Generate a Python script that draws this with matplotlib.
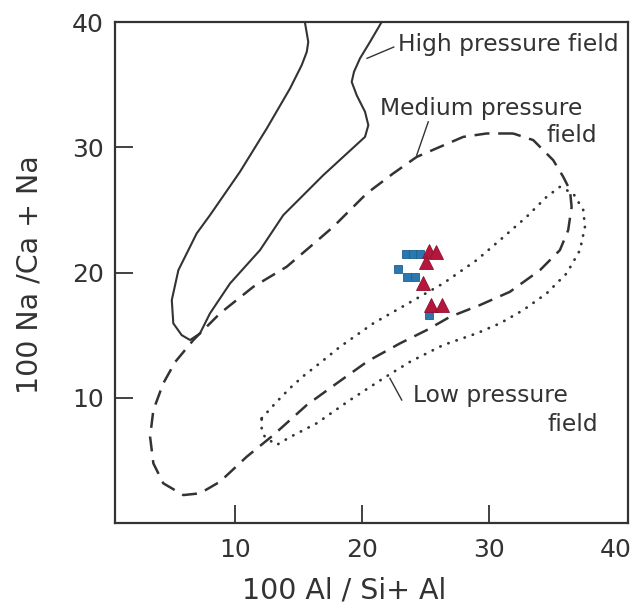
import matplotlib
matplotlib.use('Agg')
import matplotlib.pyplot as plt

# field boundaries (x = 100 Al/(Si+Al), y = 100 Na/(Ca+Na))
high_x = [15.50, 15.77, 15.65, 15.25, 14.33, 12.50, 10.39, 8.03, 6.98, 5.54, 5.02,
          5.14, 5.80, 6.46, 7.24, 8.03, 9.61, 11.97, 13.80, 16.95, 20.24, 20.50,
          20.24, 19.58, 19.19, 19.37, 19.84, 20.63, 21.55]
high_y = [40.00, 38.41, 37.61, 36.55, 34.69, 31.50, 28.04, 24.58, 23.12, 20.19, 17.80,
          15.94, 15.00, 14.61, 15.14, 16.74, 19.13, 21.79, 24.58, 27.77, 30.83, 31.76,
          32.83, 34.16, 35.22, 36.02, 37.09, 38.41, 40.00]

medium_x = [31.91, 29.82, 27.98, 26.14, 24.31, 22.46, 20.37, 17.74, 15.91, 14.07,
            11.44, 8.82, 6.72, 5.28, 4.35, 3.57, 3.31, 3.57, 4.35, 5.93, 7.24, 8.82,
            10.92, 13.02, 15.65, 18.01, 20.47, 22.99, 25.09, 26.93, 29.29, 31.65,
            34.02, 35.59, 36.24, 36.51, 36.38, 35.85, 35.06, 33.49, 31.91]
medium_y = [31.10, 31.10, 30.83, 30.03, 29.23, 27.91, 26.31, 23.65, 22.05, 20.46,
            18.86, 16.74, 14.61, 12.85, 11.15, 9.02, 6.89, 4.76, 3.17, 2.23, 2.37, 3.30,
            5.29, 7.02, 9.42, 11.15, 12.93, 14.34, 15.40, 16.46, 17.40, 18.46,
            20.19, 21.79, 23.38, 25.24, 26.58, 27.64, 28.97, 30.57, 31.10]

low_x = [12.10, 13.28, 14.33, 15.38, 16.69, 18.27, 20.89, 22.99, 26.40, 29.03,
         30.87, 32.97, 34.54, 35.59, 36.64, 37.43, 37.56, 37.17, 36.12, 34.54,
         32.70, 30.87, 29.03, 26.40, 23.78, 21.68, 19.06, 16.43, 14.33, 13.28,
         12.36, 12.10, 12.10]
low_y = [8.36, 9.68, 10.77, 11.73, 12.77, 14.07, 15.94, 17.16, 19.13, 20.99,
         22.59, 24.45, 26.04, 26.84, 26.31, 24.98, 23.65, 21.79, 19.93, 18.33,
         17.00, 15.94, 15.14, 14.21, 12.87, 11.55, 9.82, 7.96, 6.86, 6.23,
         6.86, 7.42, 8.36]

# analysed grains
square_x = [23.46, 24.02, 24.53, 22.87, 23.54, 24.17, 25.31]
square_y = [21.51, 21.51, 21.51, 20.31, 19.63, 19.63, 16.60]
triangle_x = [25.28, 25.83, 25.04, 24.80, 25.43, 26.30]
triangle_y = [21.71, 21.63, 20.83, 19.15, 17.40, 17.40]

ticks = [10, 20, 30, 40]

ink = '#333333'

fig = plt.figure(figsize=(6.38, 6.13), dpi=100)
ax = fig.add_axes([0.1803, 0.1468, 0.8040, 0.8173])

ax.plot(high_x, high_y, color=ink, lw=1.5, solid_capstyle='round')
ax.plot(medium_x, medium_y, color=ink, lw=1.8, linestyle=(0, (6, 3.5)))
ax.plot(low_x, low_y, color=ink, lw=2.0, linestyle=(0, (0.1, 3.0)),
        dash_capstyle='round')

ax.plot(square_x, square_y, 's', color='#2a78b0', markersize=6, mec='#1f5f8f', mew=0.6)
ax.plot(triangle_x, triangle_y, '^', color='#b5173c', markersize=10.5, mec='#8e1030', mew=0.6)

# labels and leader lines
lab = dict(color=ink, fontsize=16.8, va='center')
ax.text(22.8, 38.2, 'High pressure field', ha='left', **lab)
ax.plot([20.4, 22.5], [37.1, 38.0], color=ink, lw=1.0)
ax.text(21.4, 33.1, 'Medium pressure', ha='left', **lab)
ax.text(38.5, 30.9, 'field', ha='right', **lab)
ax.plot([25.22, 24.31], [32.03, 29.37], color=ink, lw=1.0)
ax.text(24.0, 10.2, 'Low pressure', ha='left', **lab)
ax.text(38.6, 7.9, 'field', ha='right', **lab)
ax.plot([22.20, 23.13], [11.55, 9.82], color=ink, lw=1.0)

ax.set_xlim(0.55, 40.95)
ax.set_ylim(0, 40)
ax.set_xticks(ticks)
ax.set_yticks(ticks)
ax.tick_params(direction='in', length=13, width=1.3, colors=ink, labelsize=18)
ax.tick_params(axis='x', pad=11)
ax.tick_params(axis='y', pad=8)
ax.xaxis.get_major_ticks()[-1].tick1line.set_visible(False)
ax.yaxis.get_major_ticks()[-1].tick1line.set_visible(False)
for s in ax.spines.values():
    s.set_linewidth(1.6)
    s.set_color(ink)

ax.set_xlabel('100 Al / Si+ Al', fontsize=20.5, color=ink)
ax.set_ylabel('100 Na /Ca + Na', fontsize=20.5, color=ink)
ax.xaxis.set_label_coords(0.446, -0.134)
ax.xaxis.label.set_verticalalignment('center')
ax.yaxis.set_label_coords(-0.166, 0.495)
ax.yaxis.label.set_verticalalignment('center')

fig.savefig('out.png', dpi=100)
